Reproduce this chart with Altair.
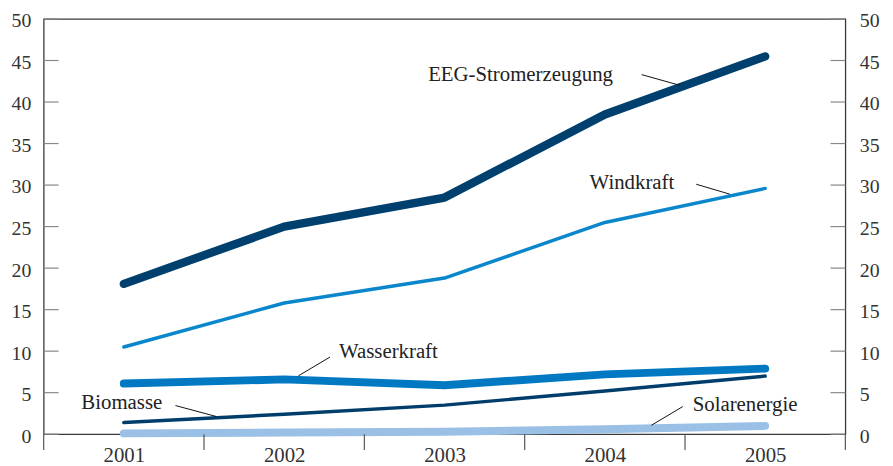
import altair as alt
import pandas as pd

years = [2001, 2002, 2003, 2004, 2005]
eeg = [18.1, 25.0, 28.5, 38.5, 45.5]
wind = [10.5, 15.8, 18.8, 25.5, 29.6]
wasser = [6.1, 6.6, 5.9, 7.2, 7.9]
bio = [1.4, 2.4, 3.5, 5.2, 7.0]
solar = [0.1, 0.2, 0.3, 0.6, 1.0]

series_names = ["Solarenergie", "Biomasse", "Wasserkraft", "Windkraft", "EEG-Stromerzeugung"]
series_values = [solar, bio, wasser, wind, eeg]
series_colors = ["#9bc0e6", "#003d6b", "#0079c2", "#0a87cc", "#00406e"]
series_widths = [8, 3.5, 8, 3.5, 8.5]

# annotation labels (data coordinates)
label_text = ["EEG-Stromerzeugung", "Windkraft", "Wasserkraft", "Biomasse", "Solarenergie"]
label_x = [2002.898, 2003.905, 2002.342, 2000.735, 2004.548]
label_y = [43.3, 30.2, 9.9, 3.7, 3.57]
leader_x1 = [2004.23, 2004.57, 2002.286, 2001.322, 2004.486]
leader_y1 = [43.3, 30.1, 9.29, 3.45, 3.33]
leader_x2 = [2004.47, 2004.78, 2002.088, 2001.575, 2004.29]
leader_y2 = [42.0, 28.9, 7.02, 2.14, 1.07]

x_edges = [2000.5, 2001.5, 2002.5, 2003.5, 2004.5, 2005.5]
y_ticks = [0, 5, 10, 15, 20, 25, 30, 35, 40, 45, 50]

W, H = 809, 419
FONT = "Liberation Serif"
FS = 21
TFS = 20

xscale = alt.Scale(domain=[2000.5, 2005.5], nice=False, zero=False)
yscale = alt.Scale(domain=[0, 50], nice=False)

xaxis = alt.Axis(values=years, format="d", ticks=False, domain=False, grid=False,
                 labelFont=FONT, labelFontSize=FS, labelColor="#333", labelPadding=11,
                 title=None, labelFlush=False, orient="bottom")
yaxis_left = alt.Axis(values=y_ticks, ticks=False, domain=False, grid=False,
                      labelFont=FONT, labelFontSize=TFS, labelColor="#333", labelPadding=13,
                      labelOffset=2, title=None, orient="left", labelFlush=False)
yaxis_right = alt.Axis(values=y_ticks, ticks=False, domain=False, grid=False,
                       labelFont=FONT, labelFontSize=TFS, labelColor="#333", labelPadding=14,
                       labelOffset=2, labelAlign="left", title=None, orient="right", labelFlush=False)

layers = []
for i, (name, vals, col, w) in enumerate(zip(series_names, series_values, series_colors, series_widths)):
    df = pd.DataFrame({"year": years, "value": vals})
    layers.append(
        alt.Chart(df).mark_line(color=col, strokeWidth=w, strokeCap="round", strokeJoin="round").encode(
            x=alt.X("year:Q", scale=xscale, axis=xaxis if i == 0 else None),
            y=alt.Y("value:Q", scale=yscale, axis=yaxis_left if i == 0 else None),
        )
    )

lab_df = pd.DataFrame({"t": label_text, "x": label_x, "y": label_y})
text_layer = alt.Chart(lab_df).mark_text(font=FONT, fontSize=FS, color="#222", align="left", baseline="middle").encode(
    x=alt.X("x:Q", scale=xscale, axis=None), y=alt.Y("y:Q", scale=yscale, axis=None), text="t:N")

lead_df = pd.DataFrame({"x1": leader_x1, "y1": leader_y1, "x2": leader_x2, "y2": leader_y2})
leader_layer = alt.Chart(lead_df).mark_rule(color="#111", strokeWidth=1).encode(
    x=alt.X("x1:Q", scale=xscale, axis=None), y=alt.Y("y1:Q", scale=yscale, axis=None),
    x2="x2:Q", y2="y2:Q")

xt_df = pd.DataFrame({"x": x_edges})
xtick_layer = alt.Chart(xt_df).mark_rule(color="#555", strokeWidth=1.2).encode(
    x=alt.X("x:Q", scale=xscale, axis=None), y=alt.value(H), y2=alt.value(H + 16))

yt_df = pd.DataFrame({"y": y_ticks})
ytick_left = alt.Chart(yt_df).mark_rule(color="#888", strokeWidth=1.2).encode(
    y=alt.Y("y:Q", scale=yscale, axis=None), x=alt.value(0), x2=alt.value(15))

ytick_right = alt.Chart(yt_df).mark_rule(color="#888", strokeWidth=1.2).encode(
    y=alt.Y("y:Q", scale=yscale, axis=yaxis_right), x=alt.value(W - 15), x2=alt.value(W))

chart = alt.layer(*layers, ytick_left, ytick_right, xtick_layer, leader_layer, text_layer).resolve_scale(
    x="independent", y="independent").properties(
    width=W, height=H,
    autosize=alt.AutoSizeParams(type="none"),
    padding={"left": 36, "top": 9, "right": 40, "bottom": 30},
    background="white",
).configure_view(stroke="#3a3a3a", strokeWidth=1.3)

chart.save("out.html", embed_options={"renderer": "svg", "actions": False})
